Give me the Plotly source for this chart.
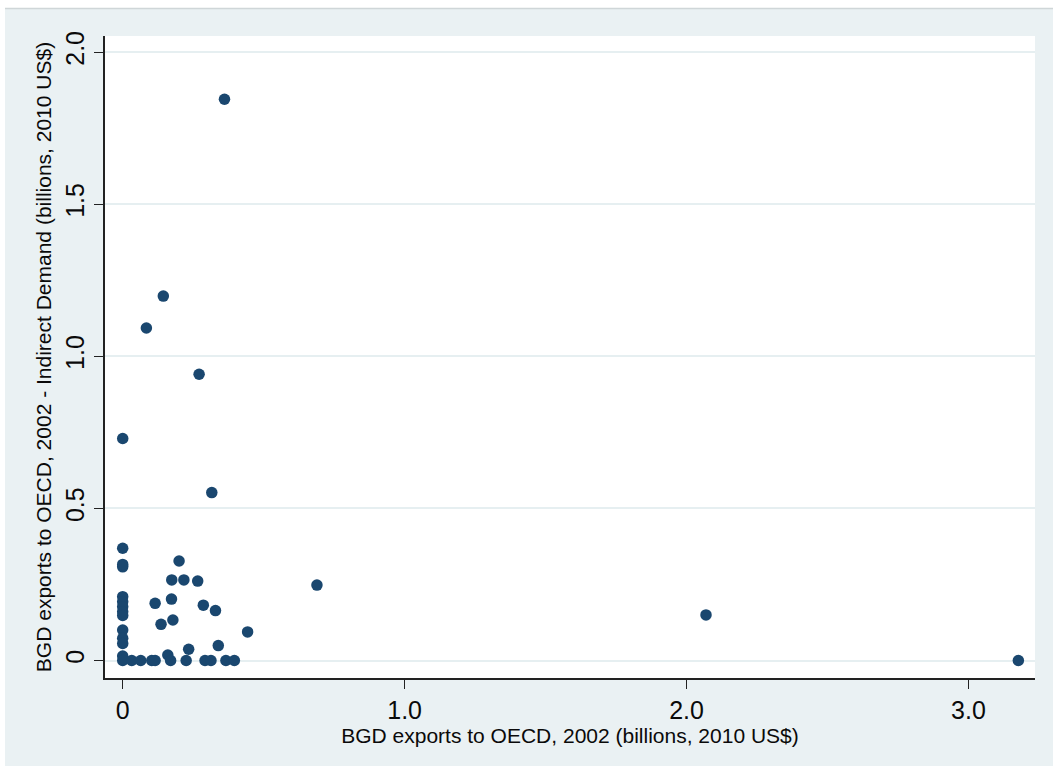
import plotly.graph_objects as go

# BGD exports to OECD (2002) vs. exports net of indirect demand, billions of 2010 US$
exports_total = [
    0.361, 0.144, 0.084, 0.271, 0.000, 0.316, 0.689, 2.069, 3.177,
    0.000, 0.000, 0.000, 0.000, 0.000, 0.000, 0.000, 0.000,
    0.000, 0.000, 0.000, 0.000, 0.000,
    0.200, 0.174, 0.217, 0.266, 0.115, 0.173, 0.286, 0.329,
    0.178, 0.136, 0.443, 0.339, 0.234, 0.160,
    0.032, 0.064, 0.103, 0.115, 0.170, 0.225, 0.292, 0.313, 0.366, 0.396,
]
exports_net_indirect = [
    1.845, 1.198, 1.093, 0.941, 0.730, 0.552, 0.248, 0.150, 0.000,
    0.369, 0.308, 0.316, 0.210, 0.193, 0.177, 0.160, 0.148,
    0.100, 0.073, 0.056, 0.015, 0.000,
    0.327, 0.265, 0.265, 0.261, 0.188, 0.202, 0.182, 0.164,
    0.133, 0.119, 0.094, 0.049, 0.037, 0.018,
    0.000, 0.000, 0.000, 0.000, 0.000, 0.000, 0.000, 0.000, 0.000, 0.000,
]

x_ticks = [0, 1, 2, 3]
x_tick_labels = ["0", "1.0", "2.0", "3.0"]
y_ticks = [0, 0.5, 1, 1.5, 2]
y_tick_labels = ["0", "0.5", "1.0", "1.5", "2.0"]

x_title = "BGD exports to OECD, 2002 (billions, 2010 US$)"
y_title = "BGD exports to OECD, 2002 - Indirect Demand (billions, 2010 US$)"

BG = "#eaf1f3"
NAVY = "#1a476f"
AXIS = "#222222"
FONT = "Liberation Sans, Arial, sans-serif"

fig = go.Figure(
    go.Scatter(
        x=exports_total,
        y=exports_net_indirect,
        mode="markers",
        marker=dict(size=11.5, color=NAVY, line=dict(width=0)),
        showlegend=False,
        hoverinfo="x+y",
    )
)

W, H = 1053, 771
L, R, T, B = 105, 1035, 36, 678

fig.update_layout(
    width=W,
    height=H,
    margin=dict(l=L, r=W - R, t=T, b=H - B, pad=0),
    paper_bgcolor=BG,
    plot_bgcolor="white",
    font=dict(family=FONT, color="#0a0a0a"),
    xaxis=dict(
        range=[-0.0628, 3.236],
        tickvals=x_ticks,
        ticktext=x_tick_labels,
        tickfont=dict(size=25),
        ticks="outside",
        ticklen=9,
        tickwidth=1,
        tickcolor=AXIS,
        showline=True,
        linecolor=AXIS,
        linewidth=1.5,
        showgrid=False,
        zeroline=False,
        title=dict(text=x_title, font=dict(size=21), standoff=4),
    ),
    yaxis=dict(
        range=[-0.0575, 2.053],
        tickvals=y_ticks,
        ticktext=y_tick_labels,
        tickfont=dict(size=25),
        tickangle=-90,
        ticks="outside",
        ticklen=9,
        tickwidth=1,
        tickcolor=AXIS,
        showline=True,
        linecolor=AXIS,
        linewidth=1.5,
        showgrid=True,
        gridcolor="#e6eff1",
        gridwidth=2,
        zeroline=False,
        title=dict(text=y_title, font=dict(size=21), standoff=4),
    ),
)

# White page edges and thin grey rule around the chart background
def px_x(p):
    return (p - L) / (R - L)

def px_y(p):
    return (B - p) / (B - T)

edge = dict(type="rect", xref="paper", yref="paper", line=dict(width=0),
            fillcolor="white", layer="above")
fig.add_shape(**edge, x0=px_x(0), x1=px_x(5), y0=px_y(H), y1=px_y(0))
fig.add_shape(**edge, x0=px_x(0), x1=px_x(W), y0=px_y(8), y1=px_y(0))
fig.add_shape(**edge, x0=px_x(0), x1=px_x(W), y0=px_y(H), y1=px_y(766))
fig.add_shape(type="line", xref="paper", yref="paper", layer="above",
              x0=px_x(5), x1=px_x(W), y0=px_y(8.5), y1=px_y(8.5),
              line=dict(color="#cfd6d8", width=1.5))

fig.write_html("out.html")
